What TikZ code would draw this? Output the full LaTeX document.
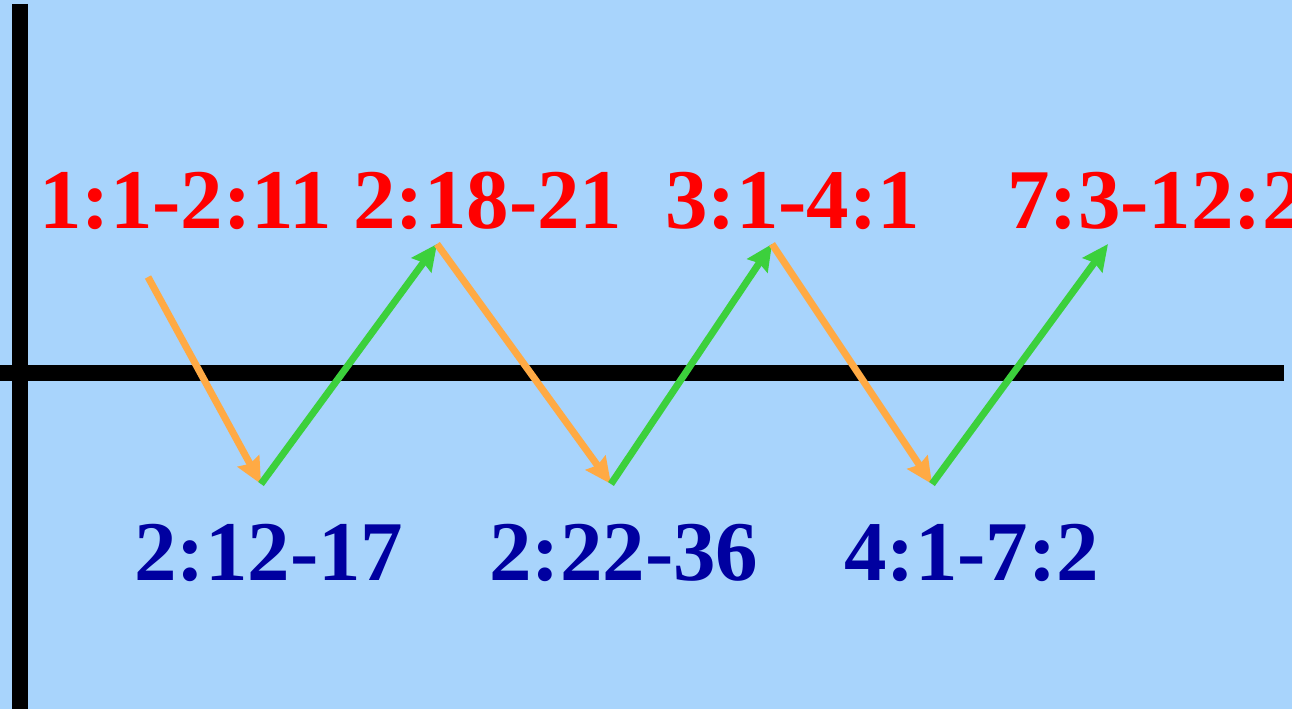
\documentclass[tikz,border=0pt]{standalone}
\usepackage{fontspec}
\setmainfont{Liberation Serif}
\usetikzlibrary{arrows.meta}
\definecolor{bg}{RGB}{168,212,252}
\definecolor{lblred}{RGB}{255,0,0}
\definecolor{lblblue}{RGB}{0,0,160}
\definecolor{arrorange}{RGB}{255,170,68}
\definecolor{arrgreen}{RGB}{60,208,60}
\tikzset{
  lbl/.style={anchor=base west, inner sep=0pt, font=\fontsize{85}{85}\selectfont\bfseries},
  toplbl/.style={lbl, text=lblred},
  botlbl/.style={lbl, text=lblblue},
  axis/.style={line width=16pt, black},
  zig/.style={line width=7pt, -{Stealth[length=26pt,width=24pt,inset=3pt]}},
  down/.style={zig, arrorange},
  up/.style={zig, arrgreen}
}
\begin{document}
\begin{tikzpicture}[x=1pt,y=-1pt]
\fill[bg] (0,0) rectangle (1292,709);
\useasboundingbox (0,0) rectangle (1292,709);
\begin{scope}
\clip (0,0) rectangle (1292,709);
% axes
\draw[axis] (20,4) -- (20,709);
\draw[axis] (0,373) -- (1284,373);
% labels
\node[toplbl] (t1) at (39,228) {1:1-2:11};
\node[toplbl] (t2) at (353,228) {2:18-21};
\node[toplbl] (t3) at (665,228) {3:1-4:1};
\node[toplbl] (t4) at (1007,228) {7:3-12:2};
\node[botlbl] (b1) at (134,580) {2:12-17};
\node[botlbl] (b2) at (489,580) {2:22-36};
\node[botlbl] (b3) at (844,580) {4:1-7:2};
% zigzag points
\coordinate (p0) at (148,277);
\coordinate (p1) at (261,484);
\coordinate (p2) at (437,244);
\coordinate (p3) at (611,484);
\coordinate (p4) at (772,244);
\coordinate (p5) at (932,484);
\coordinate (p6) at (1108,244);
\draw[down] (p0) -- (p1);
\draw[up] (p1) -- (p2);
\draw[down] (p2) -- (p3);
\draw[up] (p3) -- (p4);
\draw[down] (p4) -- (p5);
\draw[up] (p5) -- (p6);
\end{scope}
\end{tikzpicture}
\end{document}
